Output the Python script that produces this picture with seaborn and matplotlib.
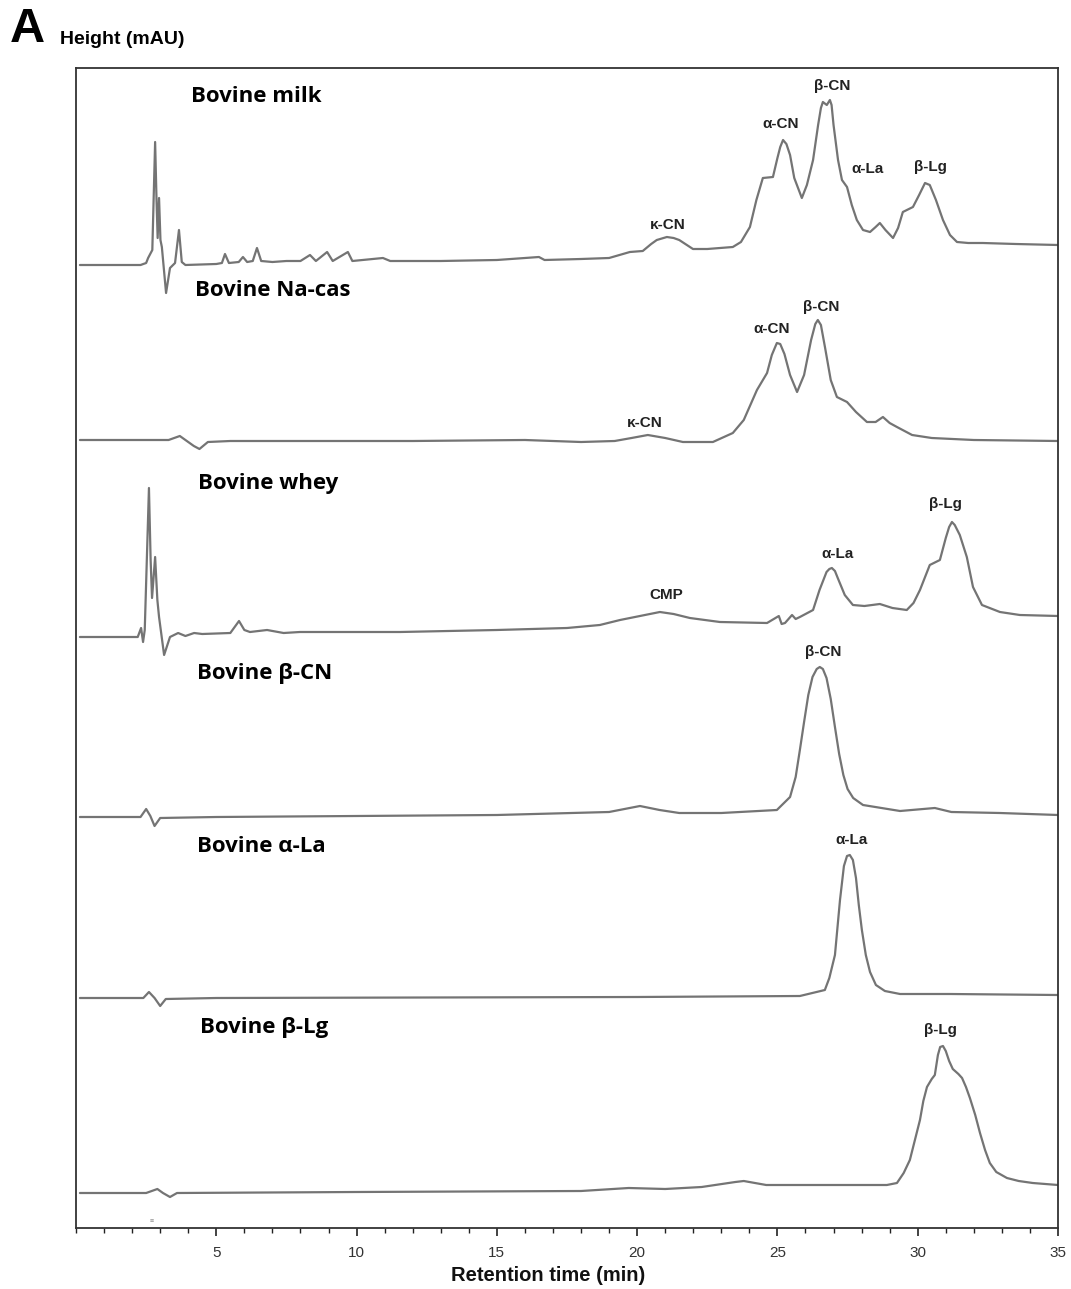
import matplotlib
matplotlib.use("Agg")
import matplotlib.pyplot as plt
from matplotlib.ticker import MultipleLocator
import numpy as np
import pandas as pd
import seaborn as sns

# Cromatogramas RP-HPLC (tiempo en min, altura en unidades relativas)
nombres = ["Bovine milk", "Bovine Na-cas", "Bovine whey", "Bovine β-CN", "Bovine α-La", "Bovine β-Lg"]

t_leche = [0.14, 2.3, 2.5, 2.57, 2.72, 2.82, 2.87, 2.91, 2.96, 3.01, 3.06, 3.21, 3.35, 3.53, 3.67, 3.77, 3.9,
           5.0, 5.2, 5.31, 5.45, 5.8, 5.95, 6.1, 6.3, 6.45, 6.6, 7.0, 7.5, 8.0, 8.34, 8.55, 8.95, 9.15, 9.69,
           9.85, 10.94, 11.2, 13, 15, 16.5, 16.7, 18, 19, 19.74, 20.2, 20.5, 20.7, 21.06, 21.3, 21.5, 21.99,
           22.5, 23.41, 23.7, 24.02, 24.25, 24.48, 24.84, 25.0, 25.1, 25.2, 25.32, 25.45, 25.6, 25.87, 26.05,
           26.27, 26.45, 26.55, 26.62, 26.76, 26.87, 26.93, 27.0, 27.16, 27.3, 27.48, 27.65, 27.83, 28.05, 28.3,
           28.5, 28.65, 28.85, 29.12, 29.3, 29.47, 29.83, 30.05, 30.26, 30.43, 30.65, 30.9, 31.15, 31.4, 31.8,
           32.32, 33.5, 35]
h_leche = [0, 0, 2, 7, 15, 123, 65, 27, 67, 25, 18, -28, -3, 2, 35, 3, 0,
           1, 2, 11, 2, 3, 8, 3, 4, 17, 4, 3, 4, 4, 10, 4, 13, 4, 13,
           4, 7, 4, 4, 5, 8, 5, 6, 7, 13, 14, 21, 25, 28, 27, 25, 16,
           16, 18, 23, 38, 65, 87, 88, 107, 118, 125, 121, 110, 87, 67, 80,
           105, 140, 157, 163, 160, 165, 160, 140, 105, 85, 78, 60, 45, 35, 33,
           38, 42, 35, 27, 37, 53, 58, 70, 82, 80, 65, 45, 30, 23, 22,
           22, 21, 20]

t_nacas = [0.14, 3.3, 3.7, 3.9, 4.2, 4.4, 4.7, 5.5, 8, 12, 16, 18, 19.2, 19.8, 20.38, 21.0, 21.63, 22.7,
           23.41, 23.8, 24.27, 24.63, 24.8, 24.98, 25.1, 25.25, 25.45, 25.7, 25.95, 26.2, 26.35, 26.44, 26.55,
           26.7, 26.9, 27.12, 27.48, 27.8, 28.19, 28.5, 28.76, 29.0, 29.26, 29.8, 30.5, 32, 35]
h_nacas = [0, 0, 4, 0, -6, -9, -2, -1, -1, -1, 0, -2, -1, 2, 5, 2, -2, -2,
           7, 20, 50, 67, 85, 97, 96, 86, 65, 48, 65, 100, 116, 120, 115,
           92, 60, 43, 38, 28, 18, 18, 23, 17, 13, 5, 2, 0, -1]

t_suero = [0.14, 2.2, 2.32, 2.39, 2.45, 2.6, 2.66, 2.71, 2.82, 2.9, 2.96, 3.14, 3.35, 3.64, 3.9, 4.21, 4.5,
           5.5, 5.81, 6.0, 6.2, 6.81, 7.4, 7.98, 11.55, 15, 17.5, 18.67, 19.39, 20.1, 20.81, 21.3, 21.88,
           22.95, 24.63, 25.05, 25.15, 25.27, 25.52, 25.65, 25.8, 26.27, 26.5, 26.75, 26.85, 26.94, 27.05,
           27.15, 27.4, 27.69, 28.1, 28.65, 29.1, 29.61, 29.85, 30.08, 30.43, 30.79, 31.0, 31.12, 31.22, 31.32,
           31.5, 31.75, 31.97, 32.29, 32.93, 33.64, 35]
h_suero = [0, 0, 9, -5, 7, 149, 77, 39, 80, 37, 20, -18, 0, 4, 1, 4, 3,
           4, 16, 7, 5, 7, 4, 5, 5, 7, 9, 12, 17, 21, 25, 23, 19,
           15, 14, 21, 13, 14, 22, 18, 20, 27, 47, 65, 68, 69, 66,
           59, 42, 32, 31, 33, 29, 27, 34, 47, 72, 77, 99, 110, 115, 112,
           102, 80, 50, 32, 25, 22, 21]

t_bcn = [0.14, 2.3, 2.5, 2.65, 2.8, 3.0, 5, 15, 19, 20.1, 20.8, 21.5, 23, 24.98, 25.45, 25.65, 25.8, 25.95,
         26.1, 26.25, 26.4, 26.51, 26.62, 26.75, 26.9, 27.05, 27.2, 27.35, 27.5, 27.7, 28.05, 29.37, 30.61,
         31.2, 32.93, 35]
h_bcn = [0, 0, 8, 1, -9, -1, 0, 2, 5, 11, 7, 4, 4, 7, 20, 40, 67, 95,
         122, 140, 148, 150, 148, 139, 118, 90, 63, 42, 28, 19, 12, 6, 9,
         5, 4, 2]

t_ala = [0.14, 2.4, 2.6, 2.8, 3.0, 3.2, 5, 20, 25.8, 26.69, 26.85, 27.05, 27.23, 27.37, 27.48, 27.58, 27.69,
         27.8, 27.9, 28.01, 28.15, 28.3, 28.51, 28.83, 29.37, 31.15, 35]
h_ala = [0, 0, 6, 0, -8, -1, 0, 1, 2, 8, 20, 43, 98, 132, 142, 143, 138,
         120, 93, 68, 43, 26, 13, 7, 4, 4, 3]

t_blg = [0.14, 2.5, 2.9, 3.1, 3.35, 3.6, 10, 18, 19.7, 21, 22.3, 23.5, 23.8, 24.6, 26, 28.9, 29.26, 29.5,
         29.72, 29.9, 30.08, 30.2, 30.33, 30.5, 30.61, 30.72, 30.8, 30.9, 31.0, 31.12, 31.25, 31.45, 31.58,
         31.72, 31.86, 32.05, 32.22, 32.4, 32.57, 32.8, 33.18, 33.6, 34.1, 35]
h_blg = [0, 0, 4, 0, -4, 0, 1, 2, 5, 4, 6, 11, 12, 8, 8, 8, 10, 20,
         33, 53, 73, 92, 106, 114, 118, 138, 146, 147, 142, 132, 124, 119, 115,
         106, 95, 78, 60, 43, 30, 21, 15, 12, 10, 8]

tiempos = [t_leche, t_nacas, t_suero, t_bcn, t_ala, t_blg]
alturas = [h_leche, h_nacas, h_suero, h_bcn, h_ala, h_blg]

# Etiquetas de picos por muestra
etiquetas = [
    ["κ-CN", "α-CN", "β-CN", "α-La", "β-Lg"],
    ["κ-CN", "α-CN", "β-CN"],
    ["CMP", "α-La", "β-Lg"],
    ["β-CN"],
    ["α-La"],
    ["β-Lg"],
]

# ---- disposicion (en pixeles de la figura original) ----
W, H = 1071, 1289
x0, x1, y0, y1 = 76, 1058, 68, 1228
px_min = (x1 - x0) / 35.0
desplazamientos = [963, 788, 591, 411, 230, 35]
pos_titulos = [(191, 97), (195, 290), (198, 483), (197, 674), (197, 847), (200, 1028)]
pos_etiquetas = [
    [(668, 225), (781, 124), (832, 86), (868, 169), (930, 167)],
    [(645, 423), (772, 329), (821, 307)],
    [(666, 595), (837, 554), (945, 504)],
    [(823, 652)],
    [(851, 840)],
    [(940, 1030)],
]


def a_datos(px, py):
    return (px - x0) / px_min, y1 - py


filas = []
for nombre, t, h, d in zip(nombres, tiempos, alturas, desplazamientos):
    for ti, hi in zip(t, h):
        filas.append({"muestra": nombre, "tiempo": ti, "senal": hi + d})
df = pd.DataFrame(filas)

sns.set_style("ticks")
plt.rcParams["font.family"] = ["Liberation Sans", "DejaVu Sans"]

fig = plt.figure(figsize=(W / 100, H / 100), dpi=100)
ax = fig.add_axes([x0 / W, 1 - y1 / H, (x1 - x0) / W, (y1 - y0) / H])

sns.lineplot(data=df, x="tiempo", y="senal", units="muestra", estimator=None, sort=False,
             color="#747474", linewidth=1.6, ax=ax)

ax.set_xlim(0, 35)
ax.set_ylim(0, y1 - y0)
ax.set_yticks([])
ax.set_ylabel("")
ax.xaxis.set_major_locator(MultipleLocator(5))
ax.xaxis.set_minor_locator(MultipleLocator(1))
ax.set_xticks([5, 10, 15, 20, 25, 30, 35])
ax.tick_params(axis="x", which="major", direction="out", length=6, width=1.2, colors="#222222",
               labelsize=11, pad=7)
ax.tick_params(axis="x", which="minor", direction="out", length=3.5, width=1.0, colors="#222222")
for lab in ax.get_xticklabels():
    lab.set_color("#333333")
for s in ax.spines.values():
    s.set_color("#333333")
    s.set_linewidth(1.3)

ax.set_xlabel("Retention time (min)", fontsize=14.5, fontweight="bold", color="#111111")
ax.xaxis.set_label_coords((548 - x0) / (x1 - x0), -0.033)

for nombre, (px, py) in zip(nombres, pos_titulos):
    tx, ty = a_datos(px, py)
    ax.text(tx, ty, nombre, fontsize=16, fontweight="bold", family=["Open Sans", "DejaVu Sans"],
            ha="left", va="center", color="#000000")

for labs, posiciones in zip(etiquetas, pos_etiquetas):
    for lab, (px, py) in zip(labs, posiciones):
        tx, ty = a_datos(px, py)
        ax.text(tx, ty, lab, fontsize=11, fontweight="bold", ha="center", va="center", color="#222222")

tx, ty = a_datos(152, 1221)
ax.text(tx, ty, "≡", fontsize=5, ha="center", va="center", color="#888888")

fig.text(10 / W, 1 - 29 / H, "A", fontsize=35, fontweight="bold", ha="left", va="center", color="#000000")
fig.text(60 / W, 1 - 40 / H, "Height (mAU)", fontsize=14, fontweight="bold", ha="left", va="center",
         color="#000000")

fig.savefig("out.png", dpi=100)
